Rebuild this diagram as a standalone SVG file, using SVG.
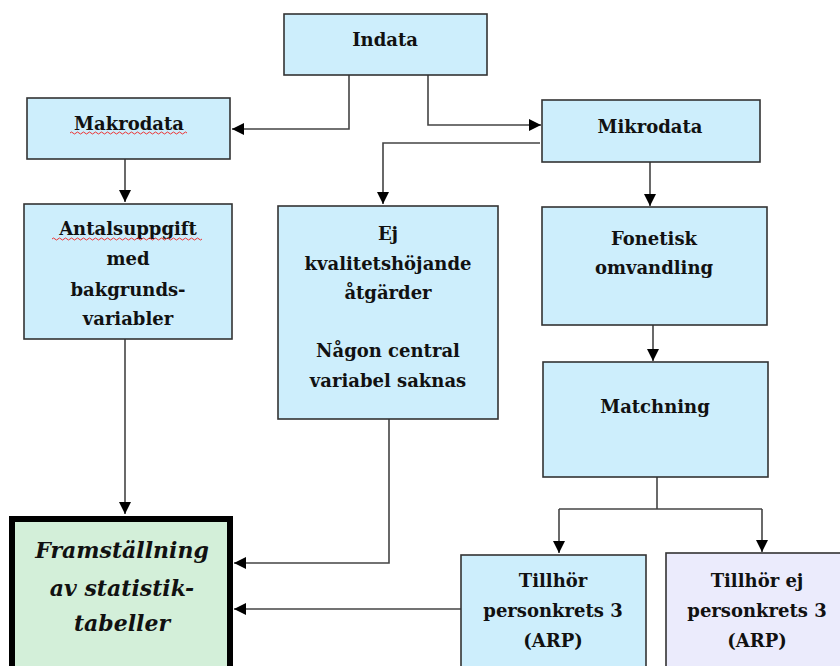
<svg xmlns="http://www.w3.org/2000/svg" width="840" height="666" viewBox="0 0 840 666">
<defs>
<style>
.box{fill:#cdeefc;stroke:#333;stroke-width:1.6}
.t{font-family:"DejaVu Serif","Liberation Serif",serif;font-weight:bold;font-size:18px;fill:#111;text-anchor:middle}
.it{font-family:"DejaVu Serif","Liberation Serif",serif;font-weight:bold;font-style:italic;font-size:22px;fill:#111;text-anchor:middle}
.c{fill:none;stroke:#444;stroke-width:1.6}
.sq{fill:none;stroke:#e33;stroke-width:1}
</style>
<marker id="ah" viewBox="0 0 10 10" refX="10" refY="5" markerWidth="12" markerHeight="12" markerUnits="userSpaceOnUse" orient="auto">
<path d="M0,0 L10,5 L0,10 Z" fill="#000"/>
</marker>
</defs>
<rect width="840" height="666" fill="#fff"/>
<g id="connectors">
<path class="c" d="M349,75 V129 H232" marker-end="url(#ah)"/>
<path class="c" d="M428,75 V125 H541" marker-end="url(#ah)"/>
<path class="c" d="M540,143 H383 V204" marker-end="url(#ah)"/>
<path class="c" d="M125,159 V202" marker-end="url(#ah)"/>
<path class="c" d="M650,162 V206" marker-end="url(#ah)"/>
<path class="c" d="M653,325 V361" marker-end="url(#ah)"/>
<path class="c" d="M657,477 V509"/>
<path class="c" d="M559,509 H762"/>
<path class="c" d="M559,509 V553" marker-end="url(#ah)"/>
<path class="c" d="M762,509 V552" marker-end="url(#ah)"/>
<path class="c" d="M125,339 V514" marker-end="url(#ah)"/>
<path class="c" d="M389,419 V563 H234" marker-end="url(#ah)"/>
<path class="c" d="M461,609 H234" marker-end="url(#ah)"/>
</g>
<g id="indata">
<rect class="box" x="284" y="14" width="203" height="61"/>
<text class="t" x="385" y="46">Indata</text>
</g>
<g id="makrodata">
<rect class="box" x="27" y="98" width="203" height="61"/>
<text class="t" x="129" y="130">Makrodata</text>
<path class="sq" d="M70,133 q1.5,-2 3,0 t3,0 t3,0 t3,0 t3,0 t3,0 t3,0 t3,0 t3,0 t3,0 t3,0 t3,0 t3,0 t3,0 t3,0 t3,0 t3,0 t3,0 t3,0 t3,0 t3,0 t3,0 t3,0 t3,0 t3,0 t3,0 t3,0 t3,0 t3,0 t3,0 t3,0 t3,0 t3,0 t3,0 t3,0 t3,0 t3,0 t3,0 t3,0"/>
</g>
<g id="mikrodata">
<rect class="box" x="542" y="100" width="218" height="62"/>
<text class="t" x="650" y="133">Mikrodata</text>
</g>
<g id="antalsuppgift">
<rect class="box" x="24" y="204" width="208" height="135"/>
<text class="t" x="128" y="235">Antalsuppgift</text>
<path class="sq" d="M52,239 q1.5,-2 3,0 t3,0 t3,0 t3,0 t3,0 t3,0 t3,0 t3,0 t3,0 t3,0 t3,0 t3,0 t3,0 t3,0 t3,0 t3,0 t3,0 t3,0 t3,0 t3,0 t3,0 t3,0 t3,0 t3,0 t3,0 t3,0 t3,0 t3,0 t3,0 t3,0 t3,0 t3,0 t3,0 t3,0 t3,0 t3,0 t3,0 t3,0 t3,0 t3,0 t3,0 t3,0 t3,0 t3,0 t3,0 t3,0 t3,0 t3,0 t3,0 t3,0"/>
<text class="t" x="128" y="265">med</text>
<text class="t" x="128" y="296">bakgrunds-</text>
<text class="t" x="128" y="325">variabler</text>
</g>
<g id="ej">
<rect class="box" x="278" y="206" width="220" height="213"/>
<text class="t" x="388" y="240">Ej</text>
<text class="t" x="388" y="270">kvalitetshöjande</text>
<text class="t" x="388" y="299">åtgärder</text>
<text class="t" x="388" y="357">Någon central</text>
<text class="t" x="388" y="387">variabel saknas</text>
</g>
<g id="fonetisk">
<rect class="box" x="542" y="207" width="225" height="118"/>
<text class="t" x="654" y="245">Fonetisk</text>
<text class="t" x="654" y="274">omvandling</text>
</g>
<g id="matchning">
<rect class="box" x="543" y="362" width="225" height="115"/>
<text class="t" x="655" y="413">Matchning</text>
</g>
<g id="framstallning">
<rect x="12" y="519" width="218" height="160" fill="#d3efd9" stroke="#000" stroke-width="6"/>
<text class="it" x="122" y="558">Framställning</text>
<text class="it" x="122" y="596">av statistik-</text>
<text class="it" x="122" y="631">tabeller</text>
</g>
<g id="tillhor">
<rect class="box" x="461" y="555" width="185" height="130"/>
<text class="t" x="553" y="587">Tillhör</text>
<text class="t" x="553" y="617">personkrets 3</text>
<text class="t" x="553" y="647">(ARP)</text>
</g>
<g id="tillhorej">
<rect x="666" y="553" width="190" height="130" fill="#ebebfc" stroke="#333" stroke-width="1.6"/>
<text class="t" x="757" y="587">Tillhör ej</text>
<text class="t" x="757" y="617">personkrets 3</text>
<text class="t" x="757" y="647">(ARP)</text>
</g>
</svg>
